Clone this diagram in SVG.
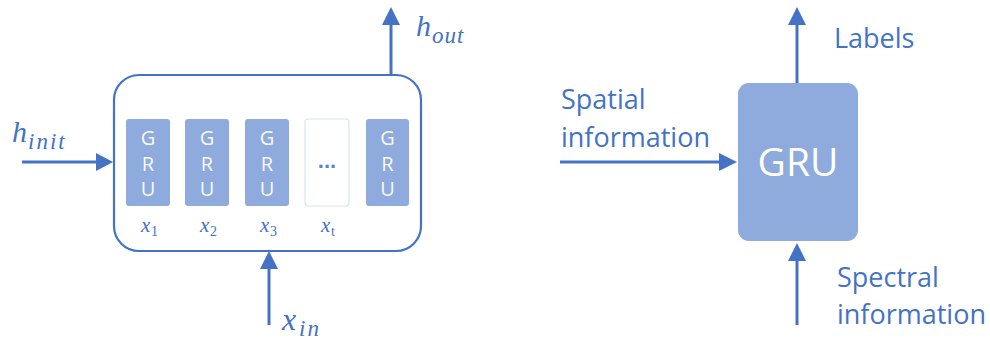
<svg xmlns="http://www.w3.org/2000/svg" width="990" height="342" viewBox="0 0 990 342">
<defs>
<style>
.ln{stroke:#4472C4;stroke-width:3;fill:none}
.ah{fill:#4472C4}
.cell{fill:#8FAADC}
.cl{font-family:"Open Sans","Liberation Sans",sans-serif;font-size:20px;fill:#F7F9FD;text-anchor:middle}
.lbl{font-family:"Open Sans","Liberation Sans",sans-serif;font-size:27px;fill:#4472C4}
.m{font-family:"Liberation Serif",serif;font-style:italic;fill:#4472C4}
.ms{font-family:"Liberation Serif",serif;fill:#4472C4}
</style>
</defs>
<rect width="990" height="342" fill="#FFFFFF"/>
<g id="connectors">
<line class="ln" x1="22" y1="162" x2="98" y2="162"/>
<polygon class="ah" points="96,153 113,162 96,171"/>
<line class="ln" x1="391" y1="75" x2="391" y2="22"/>
<polygon class="ah" points="382,25 391,7 400,25"/>
<line class="ln" x1="269" y1="325" x2="269" y2="266"/>
<polygon class="ah" points="260,269 269,251 278,269"/>
<line class="ln" x1="560" y1="162" x2="722" y2="162"/>
<polygon class="ah" points="719,153 737,162 719,171"/>
<line class="ln" x1="797" y1="83" x2="797" y2="22"/>
<polygon class="ah" points="788,25 797,7 806,25"/>
<line class="ln" x1="797" y1="325" x2="797" y2="258"/>
<polygon class="ah" points="788,261 797,243 806,261"/>
</g>
<g id="gru-chain">
<rect x="114" y="75" width="307" height="176" rx="25" ry="25" fill="none" stroke="#4472C4" stroke-width="2.2"/>
</g>
<g id="cell1">
<rect class="cell" x="126" y="119" width="44" height="87" rx="3"/>
<text class="cl" x="148" y="145">G</text><text class="cl" x="148" y="171">R</text><text class="cl" x="148" y="196">U</text>
<text class="m" x="141" y="232" font-size="21">x</text><text class="ms" x="151" y="236" font-size="14">1</text>
</g>
<g id="cell2">
<rect class="cell" x="185" y="119" width="44" height="87" rx="3"/>
<text class="cl" x="207" y="145">G</text><text class="cl" x="207" y="171">R</text><text class="cl" x="207" y="196">U</text>
<text class="m" x="200" y="232" font-size="21">x</text><text class="ms" x="210" y="236" font-size="14">2</text>
</g>
<g id="cell3">
<rect class="cell" x="245" y="119" width="44" height="87" rx="3"/>
<text class="cl" x="267" y="145">G</text><text class="cl" x="267" y="171">R</text><text class="cl" x="267" y="196">U</text>
<text class="m" x="260" y="232" font-size="21">x</text><text class="ms" x="270" y="236" font-size="14">3</text>
</g>
<g id="cellt">
<rect x="305" y="119" width="44" height="87" rx="3" fill="#FFFFFF" stroke="#DAE3F3" stroke-width="1.2"/>
<text x="327" y="168" font-family="Liberation Sans,sans-serif" font-size="22" font-weight="bold" fill="#5B84CC" text-anchor="middle">...</text>
<text class="m" x="321" y="232" font-size="21">x</text><text class="ms" x="331" y="236" font-size="14">t</text>
</g>
<g id="cell5">
<rect class="cell" x="366" y="119" width="43" height="87" rx="3"/>
<text class="cl" x="387.5" y="145">G</text><text class="cl" x="387.5" y="171">R</text><text class="cl" x="387.5" y="196">U</text>
</g>
<g id="h-init">
<text class="m" x="12" y="142" font-size="30">h</text><text class="m" x="28" y="149" font-size="23" letter-spacing="2">init</text>
</g>
<g id="h-out">
<text class="m" x="416" y="36" font-size="30">h</text><text class="m" x="432" y="43" font-size="23" letter-spacing="1">out</text>
</g>
<g id="x-in">
<text class="m" x="282" y="330" font-size="32">x</text><text class="m" x="299" y="336" font-size="23" letter-spacing="2">in</text>
</g>
<g id="gru">
<rect x="738" y="83" width="120" height="158" rx="11" ry="11" fill="#8FAADC"/>
<text x="798" y="176" font-family="Open Sans,Liberation Sans,sans-serif" font-size="39" fill="#FFFFFF" text-anchor="middle">GRU</text>
</g>
<g id="labels-text"><text class="lbl" x="834" y="48">Labels</text></g>
<g id="spatial-text"><text class="lbl" x="561" y="109">Spatial</text><text class="lbl" x="561" y="147">information</text></g>
<g id="spectral-text"><text class="lbl" x="837" y="287">Spectral</text><text class="lbl" x="837" y="324">information</text></g>
</svg>
